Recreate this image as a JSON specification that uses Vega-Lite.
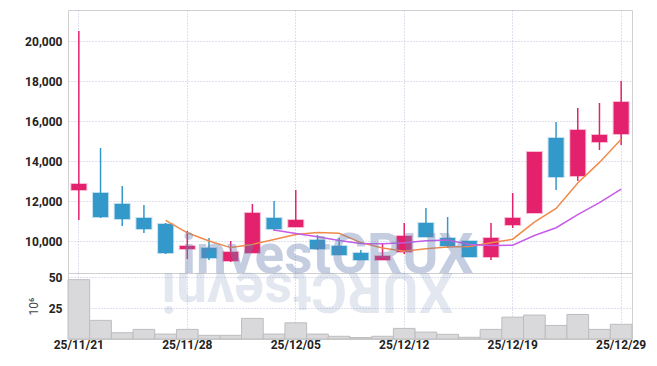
{
  "$schema": "https://vega.github.io/schema/vega-lite/v6.json",
  "padding": {"left": 24, "top": 9, "right": 5, "bottom": 5},
  "background": "white",
  "spacing": 0,
  "bounds": "flush",
  "config": {
    "view": {"stroke": "#d0d0d0"},
    "font": "Roboto",
    "axis": {
      "gridColor": "#bcc3da",
      "gridDash": [1, 2],
      "gridWidth": 1,
      "domain": false,
      "ticks": false,
      "labelFont": "Roboto",
      "labelFontWeight": "bold",
      "labelFontSize": 12,
      "labelColor": "#222222",
      "titleFont": "Roboto"
    }
  },
  "resolve": {"scale": {"y": "independent"}},
  "datasets": {
    "ohlc": [
      {"d": "25/11/21", "o": 12550, "h": 20500, "l": 11050, "c": 12850, "v": 48.1, "ma5": null, "ma10": null},
      {"d": "25/11/24", "o": 12400, "h": 14650, "l": 11150, "c": 11200, "v": 15.1, "ma5": null, "ma10": null},
      {"d": "25/11/25", "o": 11850, "h": 12750, "l": 10750, "c": 11100, "v": 5.1, "ma5": null, "ma10": null},
      {"d": "25/11/26", "o": 11150, "h": 11800, "l": 10400, "c": 10600, "v": 7.8, "ma5": null, "ma10": null},
      {"d": "25/11/27", "o": 10850, "h": 10900, "l": 9350, "c": 9400, "v": 4.0, "ma5": 11030, "ma10": null},
      {"d": "25/11/28", "o": 9600, "h": 10500, "l": 9100, "c": 9750, "v": 7.8, "ma5": 10410, "ma10": null},
      {"d": "25/12/01", "o": 9650, "h": 10150, "l": 9050, "c": 9150, "v": 3.0, "ma5": 10000, "ma10": null},
      {"d": "25/12/02", "o": 9000, "h": 10000, "l": 8950, "c": 9450, "v": 3.0, "ma5": 9670, "ma10": null},
      {"d": "25/12/03", "o": 9400, "h": 11850, "l": 9400, "c": 11400, "v": 16.7, "ma5": 9830, "ma10": null},
      {"d": "25/12/04", "o": 11150, "h": 12000, "l": 10500, "c": 10600, "v": 4.0, "ma5": 10070, "ma10": 10550},
      {"d": "25/12/05", "o": 10700, "h": 12550, "l": 10700, "c": 11050, "v": 13.1, "ma5": 10330, "ma10": 10370},
      {"d": "25/12/08", "o": 10050, "h": 10300, "l": 9550, "c": 9600, "v": 4.0, "ma5": 10420, "ma10": 10210},
      {"d": "25/12/09", "o": 9750, "h": 10150, "l": 9300, "c": 9300, "v": 2.2, "ma5": 10390, "ma10": 10030},
      {"d": "25/12/10", "o": 9400, "h": 9550, "l": 9050, "c": 9050, "v": 1.2, "ma5": 9920, "ma10": 9875},
      {"d": "25/12/11", "o": 9050, "h": 9850, "l": 9050, "c": 9250, "v": 2.2, "ma5": 9650, "ma10": 9860},
      {"d": "25/12/12", "o": 9450, "h": 10900, "l": 9350, "c": 10250, "v": 8.6, "ma5": 9490, "ma10": 9910},
      {"d": "25/12/15", "o": 10900, "h": 11650, "l": 10200, "c": 10200, "v": 5.6, "ma5": 9610, "ma10": 10015},
      {"d": "25/12/16", "o": 10150, "h": 11200, "l": 9650, "c": 9750, "v": 3.8, "ma5": 9700, "ma10": 10045},
      {"d": "25/12/17", "o": 10000, "h": 10000, "l": 9200, "c": 9200, "v": 1.4, "ma5": 9730, "ma10": 9825},
      {"d": "25/12/18", "o": 9200, "h": 10900, "l": 9050, "c": 10150, "v": 7.8, "ma5": 9910, "ma10": 9780},
      {"d": "25/12/19", "o": 10800, "h": 12400, "l": 10650, "c": 11150, "v": 17.7, "ma5": 10090, "ma10": 9790},
      {"d": "25/12/22", "o": 11400, "h": 14450, "l": 11400, "c": 14450, "v": 19.4, "ma5": 10940, "ma10": 10275},
      {"d": "25/12/23", "o": 15150, "h": 15950, "l": 12550, "c": 13200, "v": 11.0, "ma5": 11630, "ma10": 10665},
      {"d": "25/12/24", "o": 13250, "h": 16650, "l": 13000, "c": 15550, "v": 19.9, "ma5": 12900, "ma10": 11315},
      {"d": "25/12/26", "o": 14950, "h": 16900, "l": 14550, "c": 15300, "v": 7.8, "ma5": 13930, "ma10": 11920},
      {"d": "25/12/29", "o": 15350, "h": 18000, "l": 14800, "c": 16950, "v": 11.9, "ma5": 15090, "ma10": 12590}
    ],
    "mark": [{"wm": "investCRUX", "wr": "XURCtsevni"}]
  },
  "vconcat": [
    {
      "width": 564,
      "height": 263,
      "layer": [
        {
          "data": {"name": "ohlc"},
          "mark": {"type": "rule", "strokeWidth": 1.5},
          "encoding": {
            "x": {"field": "d", "type": "ordinal", "scale": {"paddingInner": 0, "paddingOuter": 0},
              "axis": {"values": ["25/11/21", "25/11/28", "25/12/05", "25/12/12", "25/12/19", "25/12/29"], "labels": false, "grid": true, "title": null, "bandPosition": 0.5}},
            "y": {"field": "l", "type": "quantitative", "scale": {"domain": [8400, 21550], "nice": false, "zero": false},
              "axis": {"values": [10000, 12000, 14000, 16000, 18000, 20000], "labelExpr": "format(datum.value, ',')", "title": null, "labelPadding": 6, "grid": true}},
            "y2": {"field": "h"},
            "color": {"condition": {"test": "datum.c >= datum.o", "value": "#e3216c"}, "value": "#3399cb"}
          }
        },
        {
          "data": {"name": "ohlc"},
          "mark": {"type": "bar", "width": 15, "strokeWidth": 2, "strokeOpacity": 0.3},
          "encoding": {
            "x": {"field": "d", "type": "ordinal"},
            "y": {"field": "o", "type": "quantitative"},
            "y2": {"field": "c"},
            "color": {"condition": {"test": "datum.c >= datum.o", "value": "#e3216c"}, "value": "#3399cb"},
            "stroke": {"condition": {"test": "datum.c >= datum.o", "value": "#e3216c"}, "value": "#3399cb"}
          }
        },
        {
          "data": {"name": "ohlc"},
          "mark": {"type": "line", "color": "#f08a4b", "strokeWidth": 1.5},
          "encoding": {
            "x": {"field": "d", "type": "ordinal"},
            "y": {"field": "ma5", "type": "quantitative"}
          }
        },
        {
          "data": {"name": "ohlc"},
          "mark": {"type": "line", "color": "#c65ce8", "strokeWidth": 1.5},
          "encoding": {
            "x": {"field": "d", "type": "ordinal"},
            "y": {"field": "ma10", "type": "quantitative"}
          }
        },
        {
          "data": {"name": "mark"},
          "mark": {"type": "text", "font": "Roboto", "fontWeight": "bold", "fontSize": 55, "color": "#6980b2", "opacity": 0.38, "align": "center", "baseline": "alphabetic", "dx": 10},
          "encoding": {
            "x": {"datum": "25/12/08", "type": "ordinal"},
            "y": {"datum": 8400, "type": "quantitative"},
            "text": {"field": "wm"}
          }
        }
      ]
    },
    {
      "width": 564,
      "height": 66,
      "layer": [
        {
          "data": {"name": "mark"},
          "mark": {"type": "text", "font": "Roboto", "fontWeight": "bold", "fontSize": 55, "color": "#6980b2", "opacity": 0.18, "align": "center", "baseline": "alphabetic", "angle": 180, "dx": 10},
          "encoding": {
            "x": {"datum": "25/12/08", "type": "ordinal"},
            "y": {"datum": 53.5, "type": "quantitative"},
            "text": {"field": "wr"}
          }
        },
        {
          "data": {"name": "ohlc"},
          "mark": {"type": "bar", "color": "#d9d9db", "stroke": "#bdbdc0", "strokeWidth": 1},
          "encoding": {
            "x": {"field": "d", "type": "ordinal", "scale": {"paddingInner": 0, "paddingOuter": 0},
              "axis": {"values": ["25/11/21", "25/11/28", "25/12/05", "25/12/12", "25/12/19", "25/12/29"], "labelAngle": 0, "labelAlign": "center", "labelPadding": 5, "grid": true, "title": null, "bandPosition": 0.5}},
            "y": {"field": "v", "type": "quantitative", "scale": {"domain": [0, 53.5], "nice": false},
              "axis": {"values": [25, 50], "labelOverlap": false, "title": "10⁶", "titleFontWeight": "normal", "titleFontSize": 12, "titleColor": "#444444", "titlePadding": 8, "labelPadding": 6, "grid": true}}
          }
        }
      ]
    }
  ]
}
